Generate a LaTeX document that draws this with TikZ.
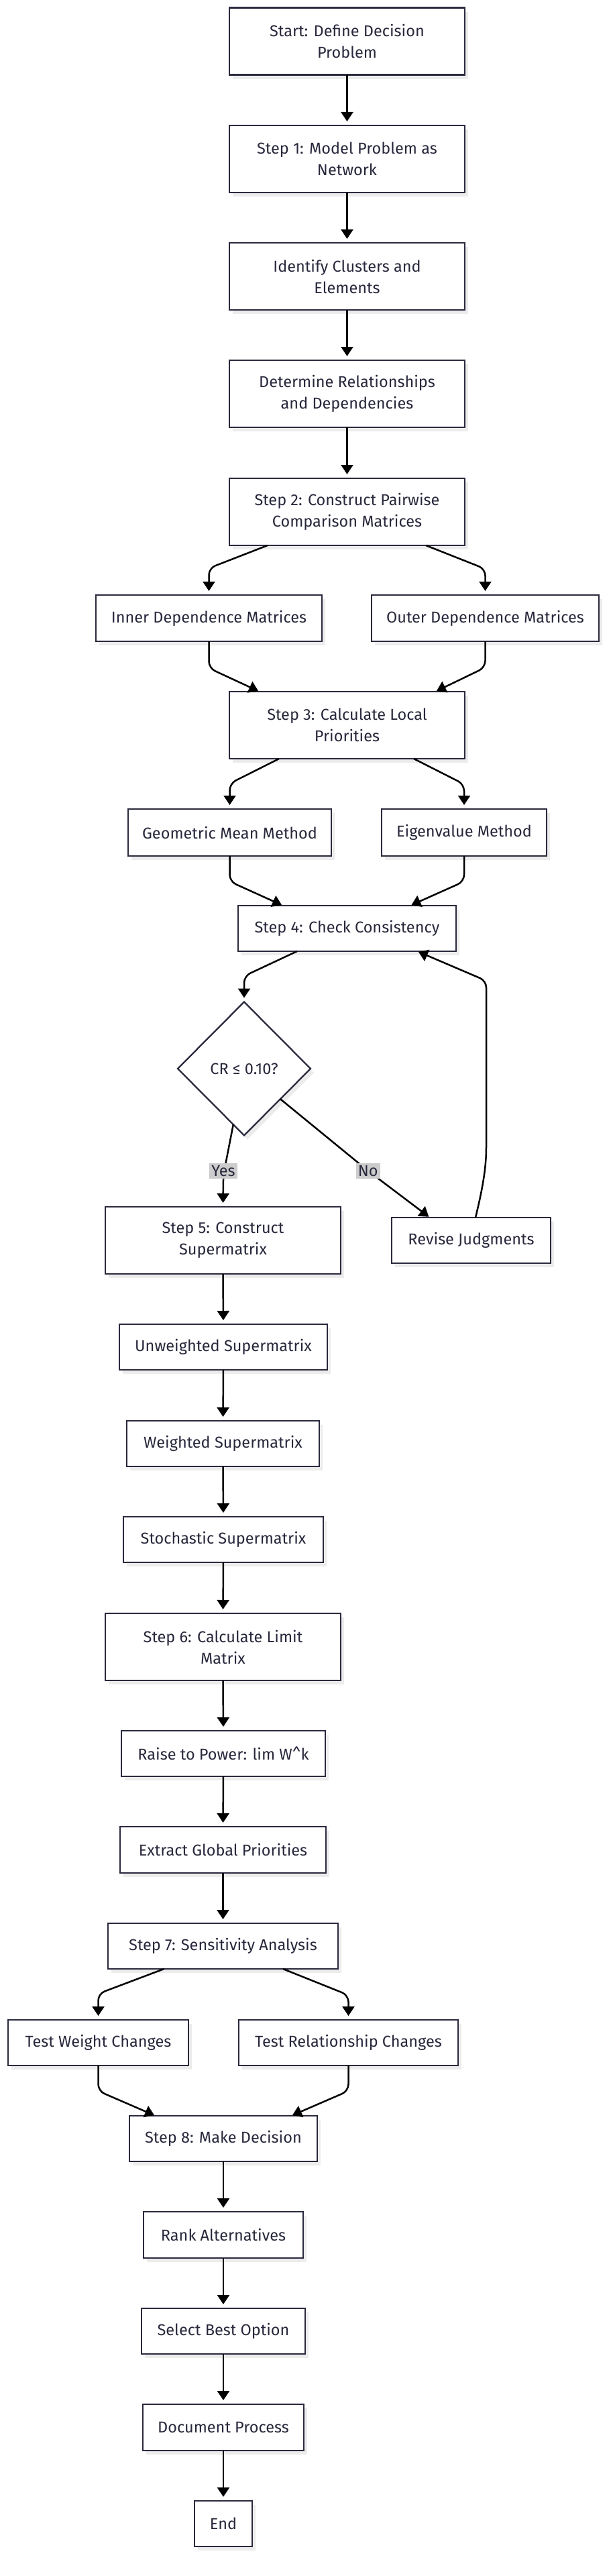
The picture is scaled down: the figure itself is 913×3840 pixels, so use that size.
\documentclass[tikz,border=0pt]{standalone}
\usepackage{fontspec}
\setmainfont{Fira Sans}
\usetikzlibrary{arrows.meta,shapes.geometric,shadows}
\definecolor{nodeline}{RGB}{42,42,62}
\definecolor{nodetext}{RGB}{40,40,60}
\definecolor{shadowgray}{RGB}{236,236,236}
\definecolor{labelbg}{RGB}{204,204,204}
\tikzset{
  box/.style={draw=nodeline, line width=2.3pt, fill=white, rectangle, inner sep=0pt, outer sep=0pt,
    align=center, text=nodetext, font=\fontsize{23.5}{32}\selectfont,
    drop shadow={fill=shadowgray, opacity=1, shadow xshift=5pt, shadow yshift=-6pt}},
  decbox/.style={draw=nodeline, line width=2.3pt, fill=white, diamond, inner sep=0pt, outer sep=0pt,
    text=nodetext, font=\fontsize{23.5}{32}\selectfont,
    minimum width=198pt, minimum height=199pt,
    drop shadow={fill=shadowgray, opacity=1, shadow xshift=5pt, shadow yshift=-6pt}},
  arr/.style={draw=black, line width=2.5pt, -{Triangle[length=14pt,width=18pt]}, shorten >=6pt, rounded corners=10pt},
  arrd/.style={arr, shorten >=2pt},
  elabel/.style={fill=labelbg, text=nodetext, inner sep=3pt, font=\fontsize{23.5}{26}\selectfont}
}
\begin{document}
\begin{tikzpicture}[x=1pt,y=-1pt]
\useasboundingbox (0,0) rectangle (913,3840);
\fill[white] (0,0) rectangle (913,3840);
% nodes
\node[box, minimum width=351pt, minimum height=100pt] (start) at (517.5,61.6) {Start: Define Decision\\Problem};
\node[box, minimum width=351pt, minimum height=100pt] (s1) at (517.5,237) {Step 1: Model Problem as\\Network};
\node[box, minimum width=351pt, minimum height=100pt] (ident) at (517.5,412) {Identify Clusters and\\Elements};
\node[box, minimum width=351pt, minimum height=100pt] (determ) at (517.5,587) {Determine Relationships\\and Dependencies};
\node[box, minimum width=351pt, minimum height=100pt] (s2) at (517.5,763) {Step 2: Construct Pairwise\\Comparison Matrices};
\node[box, minimum width=337pt, minimum height=69pt] (inner) at (311.5,921.5) {Inner Dependence Matrices};
\node[box, minimum width=339pt, minimum height=69pt] (outer) at (723.5,921.5) {Outer Dependence Matrices};
\node[box, minimum width=351pt, minimum height=100pt] (s3) at (517.5,1081) {Step 3: Calculate Local\\Priorities};
\node[box, minimum width=303pt, minimum height=70pt] (geo) at (342.5,1241) {Geometric Mean Method};
\node[box, minimum width=246pt, minimum height=70pt] (eig) at (692,1241) {Eigenvalue Method};
\node[box, minimum width=325pt, minimum height=68pt] (s4) at (517.5,1384) {Step 4: Check Consistency};
\node[decbox] (dec) at (364,1593) {CR ≤ 0.10?};
\node[box, minimum width=351pt, minimum height=100pt] (s5) at (332.5,1849) {Step 5: Construct\\Supermatrix};
\node[box, minimum width=237pt, minimum height=68pt] (rev) at (702.5,1849) {Revise Judgments};
\node[box, minimum width=310pt, minimum height=68pt] (unw) at (333,2008) {Unweighted Supermatrix};
\node[box, minimum width=287pt, minimum height=68pt] (wei) at (332.5,2152) {Weighted Supermatrix};
\node[box, minimum width=298pt, minimum height=68pt] (sto) at (333,2295) {Stochastic Supermatrix};
\node[box, minimum width=351pt, minimum height=100pt] (s6) at (332.5,2455) {Step 6: Calculate Limit\\Matrix};
\node[box, minimum width=304pt, minimum height=68pt] (rai) at (333,2614) {Raise to Power: lim W\textasciicircum k};
\node[box, minimum width=307pt, minimum height=69pt] (ext) at (332.5,2757.5) {Extract Global Priorities};
\node[box, minimum width=343pt, minimum height=68pt] (s7) at (332.5,2901) {Step 7: Sensitivity Analysis};
\node[box, minimum width=269pt, minimum height=68pt] (tw) at (146.5,3045) {Test Weight Changes};
\node[box, minimum width=327pt, minimum height=68pt] (tr) at (519.5,3045) {Test Relationship Changes};
\node[box, minimum width=280pt, minimum height=68pt] (s8) at (333,3188) {Step 8: Make Decision};
\node[box, minimum width=238pt, minimum height=69pt] (rank) at (333,3331.5) {Rank Alternatives};
\node[box, minimum width=244pt, minimum height=68pt] (sel) at (333,3475) {Select Best Option};
\node[box, minimum width=240pt, minimum height=69pt] (doc) at (333,3618.5) {Document Process};
\node[box, minimum width=86pt, minimum height=68pt] (end) at (333,3762) {End};
% connectors
\draw[arr] (start.south) -- (s1.north);
\draw[arr] (s1.south) -- (ident.north);
\draw[arr] (ident.south) -- (determ.north);
\draw[arr] (determ.south) -- (s2.north);
\draw[arr] ([xshift=-118.5pt]s2.south) -- (311.5,847) -- (inner.north);
\draw[arr] ([xshift=117.5pt]s2.south) -- (723.5,848) -- (outer.north);
\draw[arrd] (inner.south) -- (311.5,996) -- ([xshift=-130.5pt]s3.north);
\draw[arrd] (outer.south) -- (723.5,995) -- ([xshift=131.5pt]s3.north);
\draw[arr] ([xshift=-101.5pt]s3.south) -- (342.5,1168) -- (geo.north);
\draw[arr] ([xshift=99.5pt]s3.south) -- (692,1169) -- (eig.north);
\draw[arrd] (geo.south) -- (342.5,1314) -- ([xshift=-95.5pt]s4.north);
\draw[arrd] (eig.south) -- (692,1314) -- ([xshift=94pt]s4.north);
\draw[arr] ([xshift=-74.5pt]s4.south) -- (364,1455) -- (dec.north);
\draw[arr] (dec.259) -- (333,1752) -- (s5.north);
\draw[arrd] (dec.320) -- (549,1745.5) -- ([xshift=-61.5pt]rev.north);
\draw[arrd] ([xshift=6.5pt]rev.north) .. controls (720,1770) and (725,1740) .. (725,1700) -- (725,1462) -- ([xshift=104.5pt]s4.south);
\node[elabel] (yes) at (333,1745.5) {Yes};
\node[elabel] (no) at (548.7,1745.5) {No};
\draw[arr] (s5.south) -- (unw.north);
\draw[arr] (unw.south) -- (wei.north);
\draw[arr] (wei.south) -- (sto.north);
\draw[arr] (sto.south) -- (s6.north);
\draw[arr] (s6.south) -- (rai.north);
\draw[arr] (rai.south) -- (ext.north);
\draw[arr] (ext.south) -- (s7.north);
\draw[arr] ([xshift=-88pt]s7.south) -- (146.5,2972) -- (tw.north);
\draw[arr] ([xshift=89.5pt]s7.south) -- (519.5,2974) -- (tr.north);
\draw[arrd] (tw.south) -- (146.5,3117) -- ([xshift=-101pt]s8.north);
\draw[arrd] (tr.south) -- (519.5,3117) -- ([xshift=101pt]s8.north);
\draw[arr] (s8.south) -- (rank.north);
\draw[arr] (rank.south) -- (sel.north);
\draw[arr] (sel.south) -- (doc.north);
\draw[arr] (doc.south) -- (end.north);
\end{tikzpicture}
\end{document}
